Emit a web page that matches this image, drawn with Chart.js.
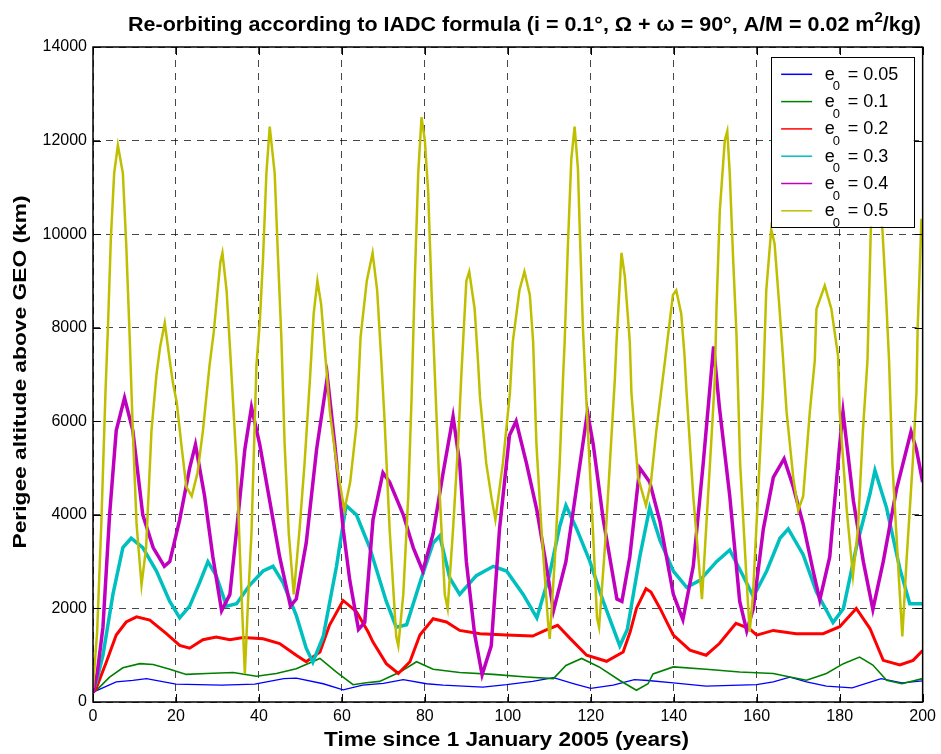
<!DOCTYPE html>
<html><head><meta charset="utf-8">
<script src="https://cdn.jsdelivr.net/npm/chart.js@4/dist/chart.umd.min.js"></script>
<style>html,body{margin:0;padding:0;background:#fff}canvas{display:block}</style>
</head><body>
<canvas id="c" width="941" height="754"></canvas>
<script>
// ---- tick labels / legend ----
const xTicks = [0,20,40,60,80,100,120,140,160,180,200];
const yTicks = [0,2000,4000,6000,8000,10000,12000,14000];
const eccValues = ['0.05','0.1','0.2','0.3','0.4','0.5'];

// ---- series: time (years) and perigee altitude above GEO (km) ----
const tE005 = [0,1,5.6,9.6,12.9,20,31,39,46,49,55.5,60.3,65,70,74.8,80.4,84.4,94,99.7,106,111,116,120,125.4,130.5,133.8,139.9,147.8,155.9,160,164,168,172,176.8,183,190,195,200];
const vE005 = [200,250,430,460,500,380,360,380,500,510,390,260,360,400,480,390,360,320,370,440,520,390,290,360,480,460,410,340,360,370,430,530,430,340,300,500,410,450];

const tE01 = [0,0.8,4,7.2,11.3,14.5,18.5,22.5,27.3,33.8,39.4,44.2,49,54.7,58.7,62.7,65.9,69.1,74,78,82,88.4,96.5,104.5,111,114,117.8,122,127,131,133.8,135,139.9,147.8,155.9,164,168,172,176.8,180.9,184.8,188,191.3,195,200];
const vE01 = [200,250,530,730,820,800,700,590,610,630,550,610,710,930,640,370,410,440,640,860,700,630,590,535,500,780,930,750,460,250,390,600,750,700,640,610,535,465,610,820,960,790,465,390,500];

const tE02 = [0,0.8,3.2,5.6,8,10.5,13.7,17.7,20.9,23.3,26.5,29.7,33,36.2,41,45,49,51.4,54.7,57,60.3,63.5,66.3,67.5,70.7,73.6,76.4,78.8,82,85.2,88.4,93.3,99.7,106,109,112,115,119,123.8,127.8,129.5,131,133.3,134.5,136.7,139.9,143.9,147.8,151,155,158.2,160,164,169.5,176,180,184,187.3,190.5,194.5,197.7,200];
const vE02 = [200,300,850,1430,1710,1820,1750,1460,1210,1150,1330,1390,1330,1380,1350,1250,1000,860,1070,1640,2170,1930,1500,1280,820,610,860,1430,1780,1710,1530,1460,1430,1410,1530,1640,1360,1000,870,1070,1500,2000,2420,2350,2000,1430,1110,1000,1250,1680,1570,1430,1530,1460,1460,1610,2000,1570,890,790,890,1100];

const tE03 = [0,0.8,2.4,4.8,7.2,9.2,12,15.3,18.5,20.9,23.3,25.7,27.7,29.7,32.2,34.6,37.8,41,43.4,45.8,49,51.4,53,55.5,58.7,61,63.5,66.7,70.7,73.1,75.6,78.8,82,83.6,86,88.4,92.4,96.5,99.7,103.7,107,110,112.5,114,116.6,119.8,123,127,128.8,131.8,134.2,136.7,139.9,143.1,146.3,150.3,153.5,156.7,159.2,162.4,165.6,167.6,171.2,174.4,178.4,180.9,184,187.3,188.5,191.3,194.5,196.9,200];
const vE03 = [250,430,1000,2300,3300,3500,3300,2800,2150,1800,2050,2550,3000,2700,2050,2100,2500,2800,2900,2550,1850,1150,850,1400,2900,4200,4000,3300,2150,1600,1650,2550,3400,3550,2650,2300,2700,2900,2800,2300,1800,2700,3750,4200,3700,3000,2150,1200,1550,3100,4150,3450,2800,2450,2600,3000,3250,2700,2250,2800,3500,3700,3150,2350,1700,2000,3300,4450,4950,4150,2850,2100,2100];

const tE04 = [0,1,2.4,4,5.6,7.6,9.6,12,14.5,17.2,18.5,20.9,23.3,24.7,26.9,28.9,31,33,35,36.6,38.2,40.2,42.6,45,47.6,49,51.4,53.9,56.5,58.3,60.3,61.9,64,65.5,67.5,69.9,71.5,74.8,77.2,79.5,82,84.4,86.8,88.4,90,92,93.8,96,98,100.4,102,104.5,107,109.3,111,114,116.6,119.2,120.6,123,126.3,127.5,129.4,131.8,134.2,136.7,139.9,142.2,144.7,147.1,149.6,151,153.5,155.9,157.6,159.2,161.6,164,166.6,168.8,171.2,173.6,175.2,177.6,180,180.8,183.3,185.7,188,190.5,193.7,197.2,198.5,200];
const vE04 = [200,600,1600,4000,5800,6500,5800,4000,3300,2900,3000,3900,5000,5500,4400,3100,1950,2300,4000,5400,6300,5500,4300,3100,2050,2200,3400,5400,6950,5500,3700,2600,1550,1700,3900,4900,4700,4000,3300,2800,3600,4900,6100,5100,3000,1450,580,1200,3700,5700,6000,5100,4100,2900,1950,3000,4600,6200,5500,3900,2200,2150,3100,5000,4700,3850,2300,1760,2900,5100,7600,6300,4400,2150,1520,2000,3700,4800,5200,4600,3800,2800,2180,3100,5500,6200,4300,3000,1980,3000,4550,5780,5400,4700];

const tE05 = [0,1,2,3,3.6,4.3,5.1,6,7.2,8,8.8,9.6,10.5,11.7,12.8,14.1,15.3,16.2,17.3,18.5,19.3,20.2,21.3,22.5,23.8,25.2,26.5,28.1,29.1,30.7,31.2,32.2,33,34.6,35.8,36.6,37.4,38.2,39.4,40.2,41,41.8,42.6,43.2,43.8,44.6,45.4,46.2,47.2,48.4,49.8,51,52.3,53.2,54.1,55,56,57.1,58.7,60.6,62,63.5,64.5,66,67.4,68.5,69.5,70.3,71.5,73.1,73.6,74.8,76,76.8,77.6,78.4,79.2,80,80.8,81.6,82.4,83.6,84.8,85.5,86.8,88,88.8,90,90.7,92,92.8,93.3,94.8,96,97,98.8,100.5,101.2,102.8,104,105.3,106.1,106.9,108.1,109.7,110.1,111.3,112.5,113.3,113.7,114.5,115.3,116.1,116.9,117.3,118.1,118.9,120.5,121.5,122,123.4,124.6,125.8,126.2,127.4,128.2,129.4,129.8,131.4,133.3,134.5,135.8,137.9,139.8,140.6,141.8,142.6,143.1,144.7,146.3,146.8,147.8,149,149.9,150.3,151.1,152.3,152.9,153.5,154.3,155.1,156,157.5,158.3,159.1,160.3,161.5,162.3,163.5,164.3,165.5,166.3,167.2,168.8,170,171.2,172.8,174,174.4,176.4,178,179.6,180,181.7,183.2,184.4,185.6,186.7,187.5,188.6,190.3,191.1,191.9,192.7,194.3,195.1,196.1,197.6,198.5,198.8,199.7,200];
const vE05 = [300,1500,3800,6600,8000,9900,11300,11900,11300,9800,7900,5800,3800,2500,3300,5800,7000,7600,8100,7300,6800,6400,5500,4600,4400,4900,5800,7200,7900,9400,9600,8800,7600,5100,2300,600,2200,3600,7200,8100,9500,11300,12300,11800,11300,9500,7800,5500,3600,2300,3700,5100,6900,8300,9000,8500,7400,6200,5100,4100,4700,5900,7800,9000,9600,8800,7300,6000,3700,1400,1200,2300,4400,6500,9100,11300,12500,12000,10900,8800,7000,4400,2300,2000,3700,5500,7000,9000,9200,8400,7300,6500,5100,4400,3900,5100,6600,7700,8800,9200,8700,7700,5500,3700,1700,1350,3000,5100,6900,7700,9800,11600,12300,11400,10200,8000,6500,3700,1800,1600,3300,5100,6900,7700,9600,9100,7700,6600,4800,4200,4700,5800,7300,8700,8800,8300,7400,6600,4400,2700,2200,3700,5500,6900,8400,10500,12000,12200,11300,9500,7900,5100,2700,1500,2300,4400,6600,8800,10100,9800,8400,7400,6200,4800,4100,4400,6200,7300,8400,8900,8400,7400,6200,4100,2700,3700,5800,7300,10100,11000,10100,8800,7300,5100,2600,1400,3000,5100,6600,8000,10300,10300];

const series = [
  {t:tE005, v:vE005, color:'#0000ff', w:1.3},
  {t:tE01,  v:vE01,  color:'#008000', w:1.6},
  {t:tE02,  v:vE02,  color:'#ff0000', w:3},
  {t:tE03,  v:vE03,  color:'#00bfbf', w:3.5},
  {t:tE04,  v:vE04,  color:'#bf00bf', w:3.5},
  {t:tE05,  v:vE05,  color:'#bfbf00', w:2.5}
];

const FONT = '"Liberation Sans", Arial, Helvetica, sans-serif';

function drawScaledText(ctx, parts, x0, baseline, targetWidth) {
  let total = 0;
  parts.forEach(p => { ctx.font = p.font; p.w = ctx.measureText(p.text).width; total += p.w; });
  const sx = targetWidth / total;
  ctx.save();
  ctx.translate(x0, baseline);
  ctx.scale(sx, 1);
  let cx = 0;
  parts.forEach(p => { ctx.font = p.font; ctx.fillText(p.text, cx, p.dy || 0); cx += p.w; });
  ctx.restore();
}

const deco = {
  id: 'deco',
  afterDatasetsDraw(chart) {
    const {ctx, chartArea: a, scales: {x, y}} = chart;
    ctx.save();
    ctx.strokeStyle = '#000';
    ctx.lineWidth = 1.5;
    ctx.strokeRect(a.left, a.top, a.right - a.left, a.bottom - a.top);
    ctx.lineWidth = 1;
    ctx.beginPath();
    xTicks.forEach(v => {
      const px = Math.round(x.getPixelForValue(v)) + 0.5;
      ctx.moveTo(px, a.bottom); ctx.lineTo(px, a.bottom - 8);
      ctx.moveTo(px, a.top); ctx.lineTo(px, a.top + 8);
    });
    yTicks.forEach(v => {
      const py = Math.round(y.getPixelForValue(v)) + 0.5;
      ctx.moveTo(a.left, py); ctx.lineTo(a.left + 8, py);
      ctx.moveTo(a.right, py); ctx.lineTo(a.right - 8, py);
    });
    ctx.stroke();

    // legend box
    const bx = a.right - 9 - 142.5, by = a.top + 10, bw = 142.5, bh = 169.5;
    ctx.fillStyle = '#fff';
    ctx.fillRect(bx, by, bw, bh);
    ctx.strokeStyle = '#000';
    ctx.lineWidth = 1;
    ctx.strokeRect(Math.round(bx) + 0.5, Math.round(by) + 0.5, Math.round(bw), Math.round(bh));
    series.forEach((s, i) => {
      const ry = by + 17.3 + i * 27.3;
      ctx.strokeStyle = s.color;
      ctx.lineWidth = 1.5;
      ctx.beginPath(); ctx.moveTo(bx + 10, ry); ctx.lineTo(bx + 41, ry); ctx.stroke();
      ctx.fillStyle = '#000';
      ctx.textAlign = 'left';
      ctx.textBaseline = 'alphabetic';
      const tx = bx + 53.5;
      ctx.font = '18px ' + FONT;
      ctx.fillText('e', tx, ry + 5.3);
      ctx.font = '13px ' + FONT;
      ctx.fillText('0', tx + 8, ry + 16);
      ctx.font = '18px ' + FONT;
      ctx.fillText('= ' + eccValues[i], tx + 23, ry + 5.3);
    });
    ctx.restore();
  },
  afterDraw(chart) {
    const {ctx} = chart;
    ctx.save();
    ctx.fillStyle = '#000';
    ctx.textAlign = 'left';
    ctx.textBaseline = 'alphabetic';
    drawScaledText(ctx, [
      {text: 'Re-orbiting according to IADC formula (i = 0.1°, Ω + ω = 90°, A/M = 0.02 m', font: 'bold 20px ' + FONT},
      {text: '2', font: 'bold 14px ' + FONT, dy: -9},
      {text: '/kg)', font: 'bold 20px ' + FONT}
    ], 128, 31, 793);
    drawScaledText(ctx, [{text: 'Time since 1 January 2005 (years)', font: 'bold 20px ' + FONT}], 324, 746, 365);
    ctx.save();
    ctx.translate(26, 372);
    ctx.rotate(-Math.PI / 2);
    ctx.font = 'bold 19px ' + FONT;
    const w = ctx.measureText('Perigee altitude above GEO (km)').width;
    ctx.scale(353 / w, 1);
    ctx.textAlign = 'center';
    ctx.fillText('Perigee altitude above GEO (km)', 0, 0);
    ctx.restore();
    ctx.restore();
  }
};

const gridOpts = {color: 'rgba(0,0,0,0.72)', lineWidth: 1, drawTicks: false, tickLength: 0};
const borderOpts = {display: false, dash: [7, 6]};
const plainLabel = v => String(v);

new Chart(document.getElementById('c'), {
  type: 'line',
  data: {
    datasets: series.map((s, i) => ({
      label: 'e0 = ' + eccValues[i],
      data: s.t.map((t, k) => ({x: t, y: s.v[k]})),
      borderColor: s.color,
      borderWidth: s.w,
      pointRadius: 0,
      tension: 0,
      fill: false,
      order: series.length - i
    }))
  },
  options: {
    responsive: false,
    devicePixelRatio: 1,
    animation: false,
    events: [],
    layout: {padding: {top: 47, right: 18, left: 0, bottom: 0}},
    plugins: {legend: {display: false}, tooltip: {enabled: false}, title: {display: false}},
    scales: {
      x: {
        type: 'linear', min: 0, max: 200,
        afterBuildTicks: s => { s.ticks = xTicks.map(v => ({value: v})); },
        afterFit: s => { s.height = 52; },
        ticks: {color: '#000', font: {size: 16, family: FONT}, padding: 5, maxRotation: 0, autoSkip: false, callback: plainLabel},
        grid: gridOpts, border: borderOpts
      },
      y: {
        type: 'linear', min: 0, max: 14000,
        afterBuildTicks: s => { s.ticks = yTicks.map(v => ({value: v})); },
        afterFit: s => { s.width = 93; },
        ticks: {color: '#000', font: {size: 16, family: FONT}, padding: 6, autoSkip: false, callback: plainLabel},
        grid: gridOpts, border: borderOpts
      }
    }
  },
  plugins: [deco]
});
</script>
</body></html>
